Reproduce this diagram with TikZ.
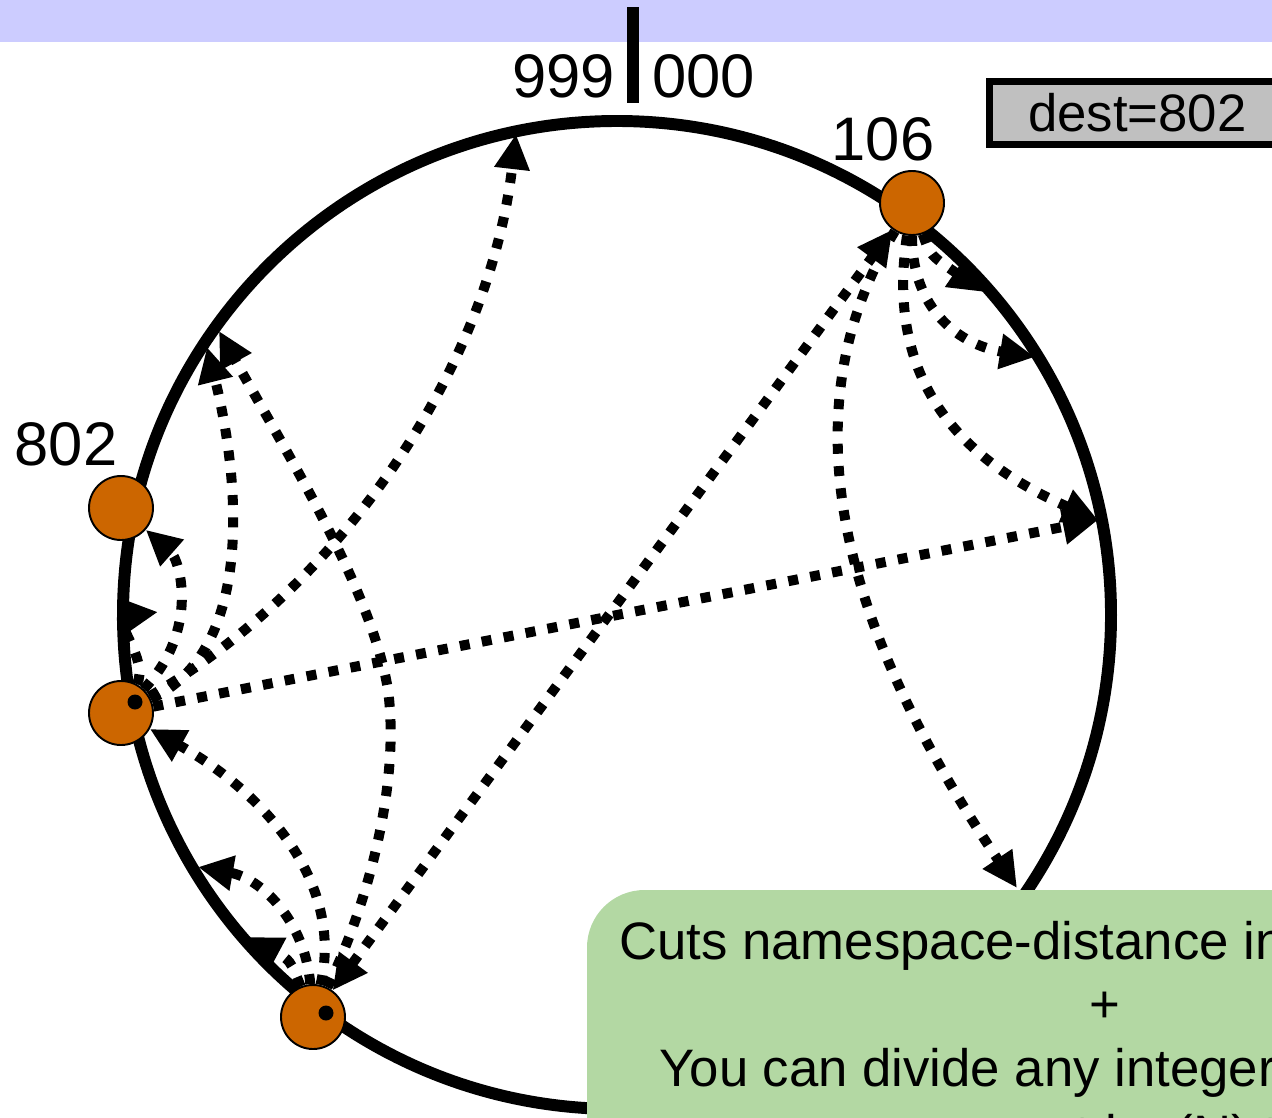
\documentclass[tikz,border=0pt]{standalone}
\usepackage{fontspec}
\setmainfont{Liberation Sans}
\usetikzlibrary{arrows.meta}

\definecolor{bandblue}{RGB}{204,204,255}
\definecolor{peerorange}{RGB}{204,102,0}
\definecolor{boxgray}{RGB}{192,192,192}
\definecolor{notegreen}{RGB}{179,216,163}

\begin{document}
\begin{tikzpicture}[
        x=0.2mm, y=-0.2mm,
        every node/.style={font=\fontsize{35}{42}\selectfont, inner sep=0pt},
        peer/.style={circle, draw, line width=1.1pt, fill=peerorange, minimum size=12.8mm},
        ring/.style={line width=6.8pt},
        finger/.style={->, line width=5.7pt, dash pattern=on 5.7pt off 7pt},
        notetext/.style={font=\fontsize{30}{36}\selectfont},
        >={Triangle[length=20pt,width=19pt]}
    ]

        \useasboundingbox (0,0) rectangle (1272,1117);

        %--------------------------------
        % header band and the 999|000 mark
        %--------------------------------
        \fill[bandblue] (0,0) rectangle (1272,42);
        \fill (627,7) rectangle (639,103);
        \node[anchor=base east] (l999) at (615,97) {999};
        \node[anchor=base west] (l000) at (652,97) {000};

        %--------------------------------
        % ring and peers
        %--------------------------------
        \draw[ring] (617,615) circle[radius=98.8mm];

        \node[peer] (n106) at (912,203) {};
        \node[peer] (n802) at (121,508) {};
        \node[peer] (n719) at (121,713) {};
        \node[peer] (n618) at (313,1017) {};

        \node[anchor=base] (l106) at (883,160) {106};
        \node[anchor=base] (l802) at (66,465) {802};

        % finger targets on the ring
        \coordinate (f138) at (984,292);
        \coordinate (f170) at (1035,357);
        \coordinate (f234) at (1098,520);
        \coordinate (f362) at (1017,888);
        \coordinate (f650) at (247,937);
        \coordinate (f682) at (198,867);
        \coordinate (f874) at (219,331);
        \coordinate (f751) at (158,612);
        \coordinate (f847) at (207,347);
        \coordinate (f975) at (516,134);

        %--------------------------------
        % fingers of 106
        %--------------------------------
        \draw[finger] (n106) .. controls (930,255) .. (f138);
        \draw[finger] (n106) .. controls (912,310) and (960,345) .. (f170);
        \draw[finger] (n106) .. controls (885,380) and (960,460) .. (f234);
        \draw[finger] (n106) .. controls (780,420) and (850,640) .. (f362);
        \draw[finger, <->] (n618) -- (n106);

        %--------------------------------
        % fingers of the lower peer
        %--------------------------------
        \draw[finger] (n618) .. controls (290,960) .. (f650);
        \draw[finger] (n618) .. controls (305,920) and (260,878) .. (f682);
        \draw[finger] (n618) .. controls (345,880) and (260,790) .. (n719);
        \draw[finger] (n618) .. controls (370,900) and (400,780) .. (388,690)
                              .. controls (372,590) and (285,450) .. (f874);

        %--------------------------------
        % fingers of the peer below 802
        %--------------------------------
        \draw[finger] (n719) .. controls (150,660) and (110,618) .. (f751);
        \draw[finger] (n719) .. controls (200,630) and (180,560) .. (n802);
        \draw[finger] (n719) .. controls (255,650) and (240,480) .. (f847);
        \draw[finger] (n719) .. controls (350,580) and (490,360) .. (f975);
        \draw[finger] (n719) -- (f234);

        \fill (135,702) circle[radius=1.5mm];
        \fill (326,1013) circle[radius=1.5mm];

        %--------------------------------
        % lookup key and note
        %--------------------------------
        \node[draw, line width=4pt, fill=boxgray, anchor=west, minimum height=12.6mm,
              inner xsep=7.7mm, notetext] (dest) at (986,113) {dest=802};

        \fill[notegreen, rounded corners=11.5mm] (587,890) rectangle (1500,1400);
        \node[notetext, anchor=base west] (note1) at (619,959) {Cuts namespace-distance in};
        \node[notetext, anchor=base] (note2) at (1105,1022) {+};
        \node[notetext, anchor=base west] (note3) at (659,1086) {You can divide any integer};
        \node[notetext, anchor=base west] (note4) at (976,1152) {most log(N) times};

    \end{tikzpicture}
\end{document}
